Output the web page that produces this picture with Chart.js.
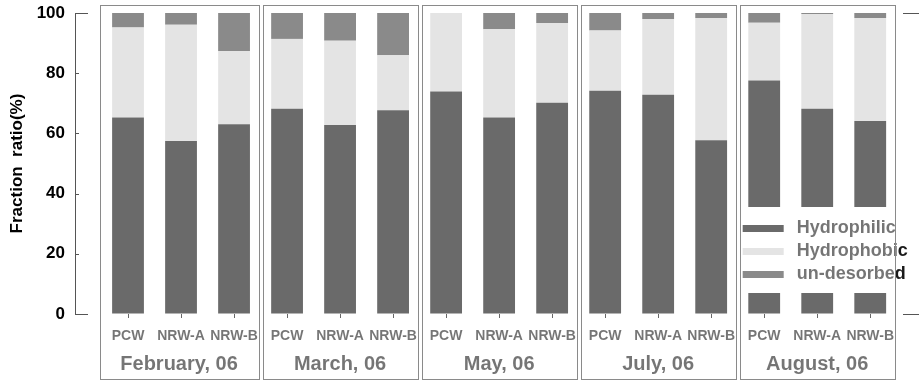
<!DOCTYPE html>
<html>
<head>
<meta charset="utf-8">
<script src="https://cdn.jsdelivr.net/npm/chart.js@4"></script>
<style>
  html, body { margin: 0; padding: 0; background: #fff; }
</style>
</head>
<body>
<canvas id="fractionChart" width="919" height="381"></canvas>
<script>
const months = ["February, 06", "March, 06", "May, 06", "July, 06", "August, 06"];
const categories = ["PCW", "NRW-A", "NRW-B", "PCW", "NRW-A", "NRW-B", "PCW", "NRW-A", "NRW-B",
                    "PCW", "NRW-A", "NRW-B", "PCW", "NRW-A", "NRW-B"];
const hydrophilic = [65.3, 57.5, 63.0, 68.2, 62.8, 67.7, 73.9, 65.3, 70.2, 74.2, 72.8, 57.7, 77.6, 68.2, 64.1];
const hydrophobic = [29.9, 38.6, 24.4, 23.2, 28.0, 18.3, 26.1, 29.3, 26.5, 20.0, 25.2, 40.6, 19.2, 31.5, 34.2];
const undesorbed  = [4.8, 3.9, 12.6, 8.6, 9.2, 14.0, 0, 5.4, 3.3, 5.8, 2.0, 1.7, 3.2, 0.3, 1.7];
const yTicks = [0, 20, 40, 60, 80, 100];

Chart.defaults.font.family = "Arial, 'Liberation Sans', sans-serif";

function toPoints(vals) {
  return vals.map((v, i) => ({ x: i, y: v }));
}

// boxes around each month, washed with white like the scanned figure
const groupBoxes = {
  id: "groupBoxes",
  afterDraw(chart) {
    const ctx = chart.ctx;
    const xs = chart.scales.x;
    const ys = chart.scales.y;
    const area = chart.chartArea;

    ctx.save();

    // short frame pieces and inward ticks on the y axis
    ctx.strokeStyle = "#555";
    ctx.lineWidth = 1;
    ctx.beginPath();
    [100, 0].forEach(v => {
      const py = Math.round(ys.getPixelForValue(v)) + 0.5;
      ctx.moveTo(area.left, py);
      ctx.lineTo(area.left + 13, py);
      ctx.moveTo(area.right - 16, py);
      ctx.lineTo(area.right, py);
    });
    yTicks.slice(1, -1).forEach(v => {
      const py = Math.round(ys.getPixelForValue(v)) + 0.5;
      ctx.moveTo(area.left, py);
      ctx.lineTo(area.left + 4, py);
    });
    ctx.stroke();

    const boxes = months.map((m, g) => ({
      left: xs.getPixelForValue(3 * g - 0.5) + 2,
      right: xs.getPixelForValue(3 * g + 2.5) - 2
    }));
    boxes[0].left -= 4;

    // legend inside the last box
    const last = boxes[boxes.length - 1];
    ctx.fillStyle = "#fff";
    ctx.fillRect(last.left + 1, 207, chart.width - last.left, 86);
    ctx.font = "bold 18px Arial, 'Liberation Sans', sans-serif";
    ctx.textAlign = "left";
    ctx.textBaseline = "middle";
    chart.data.datasets.forEach((ds, i) => {
      const cy = 228 + i * 23;
      ctx.fillStyle = ds.backgroundColor;
      ctx.fillRect(last.left + 3, cy - 3, 41, 7);
      ctx.fillStyle = "#1a1a1a";
      ctx.fillText(ds.label, last.left + 57, cy);
    });

    // month names
    ctx.font = "bold 20px Arial, 'Liberation Sans', sans-serif";
    ctx.textAlign = "center";
    ctx.fillStyle = "#1a1a1a";
    boxes.forEach((b, g) => {
      ctx.fillText(months[g], (b.left + b.right) / 2, 364);
    });

    // the boxes themselves
    ctx.fillStyle = "rgba(255,255,255,0.4)";
    ctx.strokeStyle = "#8a8a8a";
    boxes.forEach(b => {
      const l = Math.round(b.left) + 0.5;
      const r = Math.round(b.right) + 0.5;
      ctx.fillRect(l, 5, r - l, 375);
      ctx.strokeRect(l, 5.5, r - l, 374);
    });

    ctx.restore();
  }
};

new Chart("fractionChart", {
  type: "bar",
  data: {
    datasets: [
      { label: "Hydrophilic", data: toPoints(hydrophilic), backgroundColor: "#080808" },
      { label: "Hydrophobic", data: toPoints(hydrophobic), backgroundColor: "#d2d2d2" },
      { label: "un-desorbed", data: toPoints(undesorbed), backgroundColor: "#3c3c3c" }
    ]
  },
  options: {
    responsive: false,
    animation: false,
    devicePixelRatio: 1,
    barPercentage: 0.6,
    categoryPercentage: 1,
    layout: { padding: { top: 13, right: 0, bottom: 0, left: 0 } },
    plugins: {
      legend: { display: false },
      tooltip: { enabled: false }
    },
    scales: {
      x: {
        type: "linear",
        offset: false,
        stacked: true,
        min: -1,
        max: 14.92,
        afterBuildTicks: scale => {
          scale.ticks = categories.map((c, i) => ({ value: i }));
        },
        afterFit: scale => { scale.height = 67; scale.paddingLeft = 0; scale.paddingRight = 0; },
        grid: { drawOnChartArea: false, tickLength: 4, color: "#000", offset: false },
        border: { display: false },
        ticks: {
          autoSkip: false,
          maxRotation: 0,
          padding: 10,
          color: "#1a1a1a",
          font: { size: 14, weight: "bold" },
          callback: value => categories[value]
        }
      },
      y: {
        stacked: true,
        min: 0,
        max: 100,
        afterFit: scale => { scale.width = 75; scale.paddingTop = 0; scale.paddingBottom = 0; },
        grid: { drawOnChartArea: false, drawTicks: false },
        border: { color: "#555", width: 1 },
        ticks: {
          stepSize: 20,
          padding: 10,
          color: "#000",
          font: { size: 17, weight: "bold" }
        },
        title: {
          display: true,
          text: "Fraction  ratio(%)",
          color: "#000",
          font: { size: 17, weight: "bold" },
          padding: { top: 7, bottom: 0 }
        }
      }
    }
  },
  plugins: [groupBoxes]
});
</script>
</body>
</html>
